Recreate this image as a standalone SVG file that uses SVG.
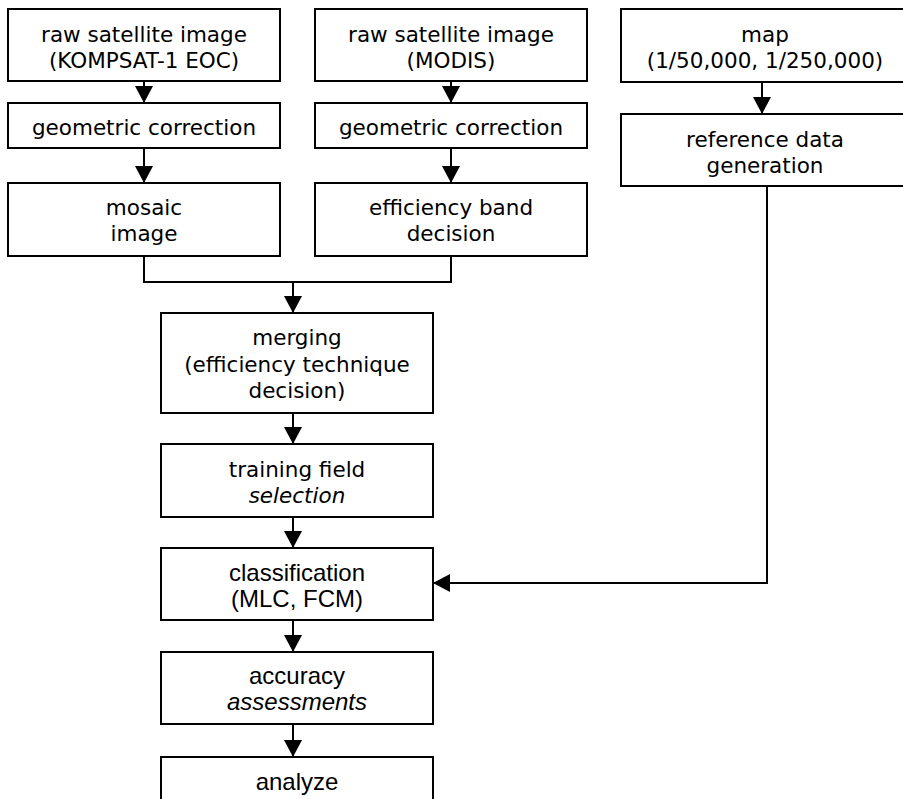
<svg xmlns="http://www.w3.org/2000/svg" width="903" height="799" viewBox="0 0 903 799">
<style>
  .box { fill: #ffffff; stroke: #000000; stroke-width: 2; }
  .t { font-family: "DejaVu Sans", sans-serif; font-size: 21.5px; fill: #000; text-anchor: middle; }
  .a { font-family: "Liberation Sans", Arial, sans-serif; font-size: 24px; fill: #000; text-anchor: middle; }
  .it { font-style: italic; }
  .c { fill: none; stroke: #000000; stroke-width: 2; }
</style>
<defs>
  <marker id="arr" markerUnits="userSpaceOnUse" markerWidth="18" markerHeight="18" refX="17" refY="9" orient="auto">
    <path d="M0,0 L17,9 L0,18 Z" fill="#000"/>
  </marker>
</defs>
<rect width="903" height="799" fill="#ffffff"/>

<g id="connectors">
  <line class="c" x1="144" y1="81" x2="144" y2="103" marker-end="url(#arr)"/>
  <line class="c" x1="144" y1="148" x2="144" y2="183" marker-end="url(#arr)"/>
  <line class="c" x1="451" y1="81" x2="451" y2="103" marker-end="url(#arr)"/>
  <line class="c" x1="451" y1="148" x2="451" y2="183" marker-end="url(#arr)"/>
  <line class="c" x1="762" y1="82" x2="762" y2="114" marker-end="url(#arr)"/>
  <polyline class="c" points="144,256 144,282 451,282 451,256"/>
  <line class="c" x1="293" y1="282" x2="293" y2="313" marker-end="url(#arr)"/>
  <line class="c" x1="293" y1="413" x2="293" y2="444" marker-end="url(#arr)"/>
  <line class="c" x1="293" y1="517" x2="293" y2="548" marker-end="url(#arr)"/>
  <line class="c" x1="293" y1="620" x2="293" y2="652" marker-end="url(#arr)"/>
  <line class="c" x1="293" y1="724" x2="293" y2="757" marker-end="url(#arr)"/>
  <polyline class="c" points="767,186 767,583 433,583" marker-end="url(#arr)"/>
</g>

<g id="node-raw-kompsat">
  <rect class="box" x="8" y="9" width="272" height="72"/>
  <text class="t" x="144" y="42">raw satellite image</text>
  <text class="t" x="144" y="68">(KOMPSAT-1 EOC)</text>
</g>
<g id="node-geo-a">
  <rect class="box" x="8" y="103" width="272" height="45"/>
  <text class="t" x="144" y="135">geometric correction</text>
</g>
<g id="node-mosaic">
  <rect class="box" x="8" y="183" width="272" height="73"/>
  <text class="t" x="144" y="215">mosaic</text>
  <text class="t" x="144" y="241">image</text>
</g>

<g id="node-raw-modis">
  <rect class="box" x="315" y="9" width="272" height="72"/>
  <text class="t" x="451" y="42">raw satellite image</text>
  <text class="t" x="451" y="68">(MODIS)</text>
</g>
<g id="node-geo-b">
  <rect class="box" x="315" y="103" width="272" height="45"/>
  <text class="t" x="451" y="135">geometric correction</text>
</g>
<g id="node-band">
  <rect class="box" x="315" y="183" width="272" height="73"/>
  <text class="t" x="451" y="215">efficiency band</text>
  <text class="t" x="451" y="241">decision</text>
</g>

<g id="node-map">
  <rect class="box" x="621" y="9" width="300" height="73"/>
  <text class="t" x="765" y="42">map</text>
  <text class="t" x="765" y="68">(1/50,000, 1/250,000)</text>
</g>
<g id="node-reference">
  <rect class="box" x="621" y="114" width="300" height="72"/>
  <text class="t" x="765" y="147">reference data</text>
  <text class="t" x="765" y="173">generation</text>
</g>

<g id="node-merging">
  <rect class="box" x="161" y="313" width="272" height="100"/>
  <text class="t" x="297" y="345">merging</text>
  <text class="t" x="297" y="372">(efficiency technique</text>
  <text class="t" x="297" y="398">decision)</text>
</g>
<g id="node-training">
  <rect class="box" x="161" y="444" width="272" height="73"/>
  <text class="t" x="297" y="477">training field</text>
  <text class="t it" x="297" y="503">selection</text>
</g>
<g id="node-classification">
  <rect class="box" x="161" y="548" width="272" height="72"/>
  <text class="a" x="297" y="581">classification</text>
  <text class="a" x="297" y="607">(MLC, FCM)</text>
</g>
<g id="node-accuracy">
  <rect class="box" x="161" y="652" width="272" height="72"/>
  <text class="a" x="297" y="684">accuracy</text>
  <text class="a it" x="297" y="710">assessments</text>
</g>
<g id="node-analyze">
  <rect class="box" x="161" y="757" width="272" height="80"/>
  <text class="a" x="297" y="790">analyze</text>
</g>
</svg>
